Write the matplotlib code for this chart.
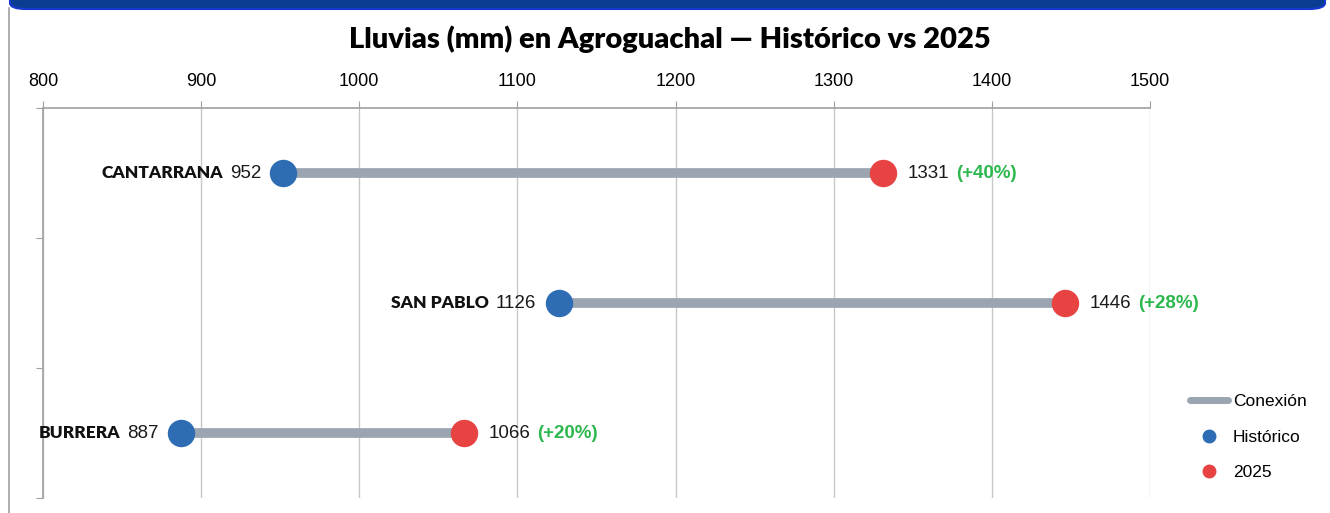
import matplotlib.pyplot as plt
from matplotlib.patches import FancyBboxPatch
from matplotlib.lines import Line2D

plt.rcParams["font.family"] = ["Liberation Sans", "DejaVu Sans"]

stations = ["CANTARRANA", "SAN PABLO", "BURRERA"]
historico = [952, 1126, 887]
lluvia_2025 = [1331, 1446, 1066]
cambio = ["(+40%)", "(+28%)", "(+20%)"]
x_ticks = [800, 900, 1000, 1100, 1200, 1300, 1400, 1500]

c_hist = "#2E6DB4"
c_2025 = "#E84343"
c_line = "#9AA5B1"
c_green = "#2DB84F"
c_grid = "#C8C8C8"

fig = plt.figure(figsize=(13.3, 5.13), dpi=100)
ax = fig.add_axes([43 / 1330, 15 / 513, 1107 / 1330, 390 / 513])

# top banner + left frame line
fig.patches.append(FancyBboxPatch((10 / 1330, 504 / 513), 1315 / 1330, 30 / 513,
                                  boxstyle="round,pad=0,rounding_size=0.012",
                                  transform=fig.transFigure, facecolor="#0A3D91",
                                  edgecolor="#1638D0", lw=1.5, clip_on=False))
fig.lines.append(Line2D([9 / 1330, 9 / 1330], [0, 505 / 513], transform=fig.transFigure,
                        color="#A0A0A0", lw=1.2))

ypos = [2.5, 1.5, 0.5]
for y, name, h, n, pct in zip(ypos, stations, historico, lluvia_2025, cambio):
    ax.plot([h, n], [y, y], color=c_line, lw=7, solid_capstyle="butt", zorder=2)
    ax.scatter([h], [y], s=390, color=c_hist, zorder=3, linewidths=0)
    ax.scatter([n], [y], s=390, color=c_2025, zorder=3, linewidths=0)
    t1 = ax.annotate(str(h), xy=(h, y), xytext=(-16, 0), textcoords="offset points",
                     ha="right", va="center", fontsize=13.5, color="#1A1A1A")
    ax.annotate(name, xy=(0, 0.5), xycoords=t1, xytext=(-5, 0), textcoords="offset points",
                ha="right", va="center", fontsize=12.5, fontweight="heavy", color="#111111",
                family=["Lato", "DejaVu Sans"])
    t2 = ax.annotate(str(n), xy=(n, y), xytext=(18, 0), textcoords="offset points",
                     ha="left", va="center", fontsize=13.5, color="#1A1A1A")
    ax.annotate(pct, xy=(1, 0.5), xycoords=t2, xytext=(5, 0), textcoords="offset points",
                ha="left", va="center", fontsize=13.5, fontweight="bold", color=c_green)

ax.set_xlim(800, 1500)
ax.set_ylim(0, 3)
ax.set_xticks(x_ticks)
ax.xaxis.tick_top()
ax.tick_params(axis="x", length=5, color="#A0A0A0", labelsize=13, pad=8)
ax.set_yticks([0, 1, 2, 3])
ax.set_yticklabels([])
ax.tick_params(axis="y", length=5, color="#A0A0A0")
ax.grid(axis="x", color=c_grid, lw=1, zorder=0)
for s in ["right", "bottom"]:
    ax.spines[s].set_visible(False)
for s in ["top", "left"]:
    ax.spines[s].set_color("#A0A0A0")
    ax.spines[s].set_linewidth(1.2)

fig.text(670 / 1330, 474 / 513, "Lluvias (mm) en Agroguachal \u2014 Histórico vs 2025",
         ha="center", va="center", fontsize=21, fontweight="heavy",
         family=["Lato", "DejaVu Sans"])

handles = [Line2D([], [], color=c_line, lw=5, solid_capstyle="round"),
           Line2D([], [], marker="o", ls="", color=c_hist, markersize=9),
           Line2D([], [], marker="o", ls="", color=c_2025, markersize=9)]
fig.legend(handles, ["Conexión", "Histórico", "2025"], loc="center left",
           bbox_to_anchor=(1174 / 1330, 76 / 513), frameon=False,
           fontsize=12.5, handlelength=2.2, handletextpad=0.3, labelspacing=1.15)

fig.savefig("out.png", dpi=100)
